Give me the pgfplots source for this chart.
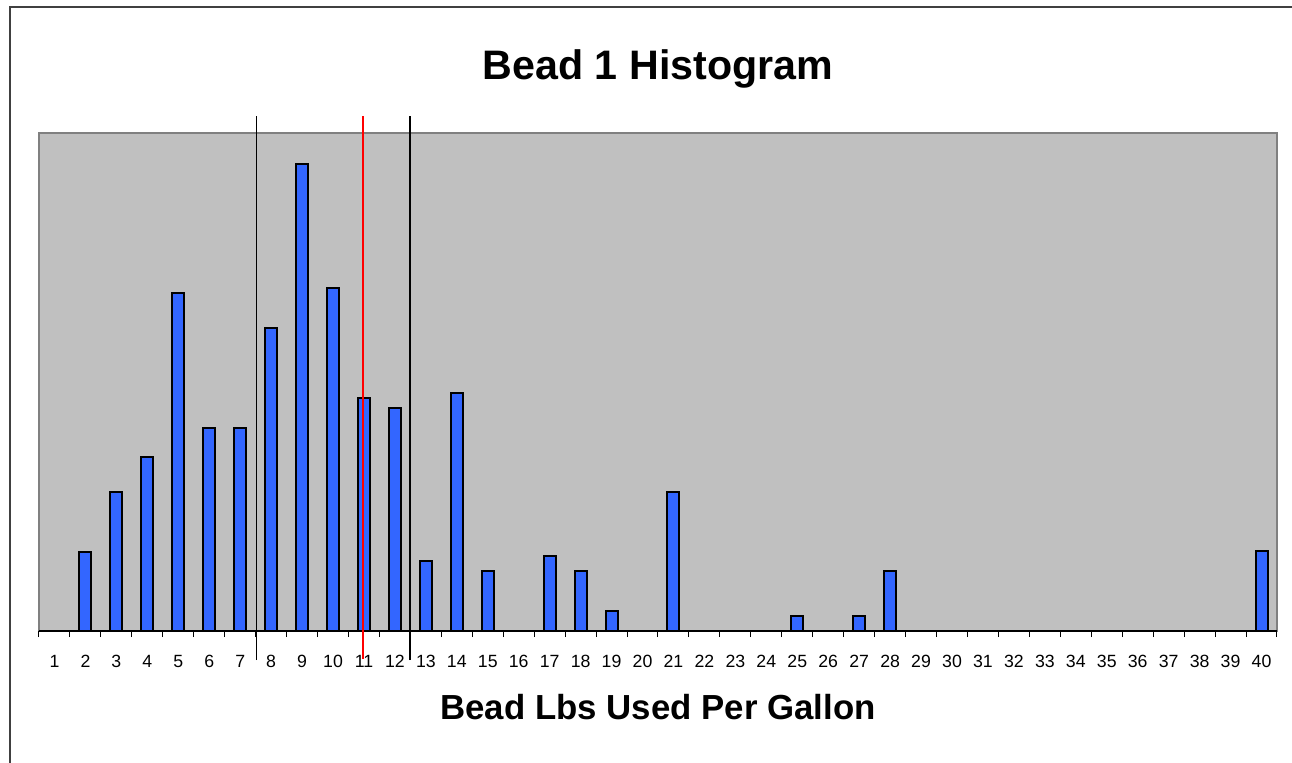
\documentclass[border=0pt]{standalone}
\usepackage{pgfplots}
\pgfplotsset{compat=1.18}
\usepackage{fontspec}
\setmainfont{Liberation Sans}
\definecolor{bggray}{RGB}{192,192,192}
\definecolor{edgegray}{RGB}{128,128,128}
\definecolor{barblue}{RGB}{51,102,255}
\definecolor{framegray}{RGB}{64,64,64}
\begin{document}
\begin{tikzpicture}
\path[use as bounding box] (-19.5pt,-65.5pt) rectangle (626.5pt,315.5pt);
\draw[framegray, line width=0.9pt] (-14.5pt,-90pt) |- (660pt,312pt);
\begin{axis}[
  at={(0,0)}, anchor=south west,
  scale only axis, width=619pt, height=249pt,
  xmin=0.5, xmax=40.5, ymin=0, ymax=498,
  clip=false,
  axis background/.style={fill=bggray, draw=edgegray, line width=1.1pt},
  axis y line=none,
  axis x line*=bottom,
  x axis line style={-, black, line width=0.6pt},
  xtick={1,...,40},
  major tick length=0pt,
  minor xtick={0.5,1.5,...,40.5},
  minor tick length=3pt,
  tick align=outside,
  tick style={black, line width=0.5pt},
  /pgf/number format/assume math mode=true,
  xticklabel style={font=\fontsize{8.85pt}{10pt}\selectfont, anchor=base, yshift=-18.35pt},
  title={Bead 1 Histogram},
  title style={font=\fontsize{20.6pt}{24pt}\selectfont\bfseries, at={(axis description cs:0.5,1)}, anchor=base, yshift=20.8pt},
  xlabel={Bead Lbs Used Per Gallon},
  xlabel style={font=\fontsize{17.4pt}{20pt}\selectfont\bfseries, at={(axis description cs:0.5,0)}, anchor=base, yshift=-44pt},
  ybar, bar width=6pt,
]
\addplot[fill=barblue, draw=black, line width=1pt] coordinates {
(2,79) (3,139) (4,174) (5,338) (6,203) (7,203) (8,303) (9,467) (10,343)
(11,233) (12,223) (13,70) (14,238) (15,60) (17,75) (18,60) (19,20)
(21,139) (25,15) (27,15) (28,60) (40,80)
};
\addplot[sharp plot, black, line width=0.75pt, forget plot] coordinates {(7.534,-29) (7.534,515.3)};
\addplot[sharp plot, black, line width=0.75pt, forget plot] coordinates {(12.49,-29) (12.49,515.3)};
\addplot[sharp plot, red, line width=1.1pt, forget plot] coordinates {(10.98,-28) (10.98,515.3)};
\end{axis}
\end{tikzpicture}
\end{document}
